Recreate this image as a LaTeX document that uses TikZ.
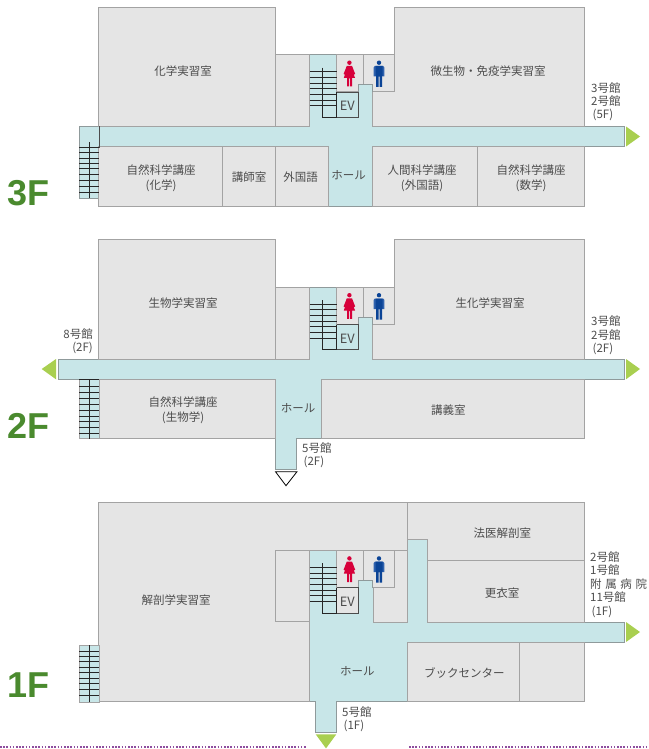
\documentclass[tikz,border=0pt]{standalone}
\usepackage{fontspec}
\setmainfont{Noto Sans CJK JP}
\newfontfamily\floorfont{Liberation Sans}[Scale=1]
\usepackage{xcolor}
\usetikzlibrary{positioning}
\definecolor{roomfill}{HTML}{E5E5E5}
\definecolor{roomline}{HTML}{A3A3A3}
\definecolor{hallfill}{HTML}{C8E6E8}
\definecolor{hallline}{HTML}{8F9A9B}
\definecolor{arrowgreen}{HTML}{A9CF50}
\definecolor{floorgreen}{HTML}{4A8A2E}
\definecolor{ladyred}{HTML}{D7003A}
\definecolor{manblue}{HTML}{0B4496}
\definecolor{manarm}{HTML}{2F62AE}
\definecolor{dotpurple}{HTML}{8E4D9E}
\definecolor{labelgray}{HTML}{4D4D4D}
\tikzset{
  room/.style={draw=roomline, fill=roomfill, line width=1pt},
  hall/.style={draw=hallline, fill=hallfill, line width=1pt},
  stairline/.style={draw=black!85, line width=0.8pt},
  exitarrow/.style={fill=arrowgreen},
  roomlabel/.style={text=labelgray, inner sep=0pt, align=center, font=\fontsize{11.5}{15}\selectfont},
  evlabel/.style={text=labelgray, inner sep=0pt, font=\fontsize{12.8}{15}\selectfont},
  winglabel/.style={text=labelgray, inner sep=0pt, align=left, anchor=west, font=\fontsize{11.5}{13.4}\selectfont},
  floorlabel/.style={text=floorgreen, draw=floorgreen, inner sep=0pt, anchor=south west, font=\floorfont\bfseries\fontsize{36}{36}\selectfont},
  dotrule/.style={draw=dotpurple, line width=2pt, dash pattern=on 1.6pt off 1.6pt}
}

\begin{document}
\begin{tikzpicture}[x=1pt,y=-1pt]
  \useasboundingbox (0,0) rectangle (648,749);

  % Floor 3
  \draw[hall] (309,55) -- (336.5,55) -- (336.5,117.3) -- (358,117.3) -- (358,84.5) -- (372,84.5) -- (372,126.5)
    -- (624,126.5) -- (624,146.5) -- (372,146.5) -- (372,206) -- (328.5,206) -- (328.5,146.5) -- (99,146.5)
    -- (99,198) -- (79,198) -- (79,126.5) -- (309,126.5) -- cycle;
  \draw[room] (98.7,7.5) rectangle (275.5,126.5);
  \draw[room] (275.5,55) rectangle (309,126.5);
  \draw[room] (394,7.5) -- (584,7.5) -- (584,126.5) -- (372,126.5) -- (372,92) -- (394,92) -- cycle;
  \draw[room] (98.7,146.5) rectangle (222.5,206);
  \draw[room] (222.5,146.5) rectangle (275.5,206);
  \draw[room] (275.5,146.5) rectangle (328.5,206);
  \draw[room] (372,146.5) rectangle (477.5,206);
  \draw[room] (477.5,146.5) rectangle (584,206);
  \draw[hall, draw=none] (358.5,85) rectangle (371.5,126);
  \draw[line width=0.8pt, black!70] (99,126.5) -- (99,148);
  \foreach \ly in {147,152.7,158,163,168.7,174.3,180.3,186,192}
    \draw[stairline] (79,\ly) -- (99,\ly);
  \draw[stairline] (89.5,142) -- (89.5,198);
  \fill[exitarrow] (626,126.5) -- (640,136.5) -- (626,146.5) -- cycle;
  \node[roomlabel] (chem) at (183,71) {化学実習室};
  \node[roomlabel] (micro) at (488,71) {微生物・免疫学実習室};
  \node[roomlabel] (natchem) at (161,178.5) {自然科学講座\\(化学)};
  \node[roomlabel] (lecturer) at (249,177) {講師室};
  \node[roomlabel] (foreign) at (300.5,177) {外国語};
  \node[roomlabel] (hallthree) at (348.5,175.5) {ホール};
  \node[roomlabel] (human) at (422,178.5) {人間科学講座\\(外国語)};
  \node[roomlabel] (natmath) at (531,178.5) {自然科学講座\\(数学)};
  \node[winglabel] (wingthree) at (591,101.7) {3号館\\2号館\\\hspace{1.5pt}(5F)};
  \node[floorlabel, draw=none] (fthree) at (7.5,206) {3F};

  % Floor 2
  \draw[hall] (309,287.5) -- (336.5,287.5) -- (336.5,349.8) -- (358,349.8) -- (358,317) -- (372,317) -- (372,359)
    -- (624,359) -- (624,379.3) -- (321,379.3) -- (321,438.5) -- (296.5,438.5) -- (296.5,469) -- (275.5,469)
    -- (275.5,379.3) -- (58.5,379.3) -- (58.5,359) -- (309,359) -- cycle;
  \draw[room] (98.7,239.7) rectangle (275.5,359);
  \draw[room] (275.5,287.5) rectangle (309,359);
  \draw[room] (394,239.7) -- (584,239.7) -- (584,359) -- (372,359) -- (372,324.5) -- (394,324.5) -- cycle;
  \draw[room] (98.7,379.3) rectangle (275.5,438.5);
  \draw[room] (321,379.3) rectangle (584,438.5);
  \draw[hall, draw=none] (358.5,317.5) rectangle (371.5,358.5);
  \draw[hall, draw=roomline] (79,379.3) rectangle (99,438.5);
  \foreach \ly in {379.3,386.7,392.7,398.7,404.3,410.3,416,421.7,427.7,433.3}
    \draw[stairline] (79,\ly) -- (99,\ly);
  \draw[stairline] (89.5,379.3) -- (89.5,439);
  \fill[exitarrow] (56,359) -- (41.7,369) -- (56,379.3) -- cycle;
  \fill[exitarrow] (626,359) -- (640,369) -- (626,379.3) -- cycle;
  \draw[line width=0.8pt] (275.5,471.7) -- (297,471.7) -- (286,485.7) -- cycle;
  \node[roomlabel] (bio) at (183,303) {生物学実習室};
  \node[roomlabel] (biochem) at (490,303) {生化学実習室};
  \node[roomlabel] (natbio) at (183,410.5) {自然科学講座\\(生物学)};
  \node[roomlabel] (halltwo) at (298,408.5) {ホール};
  \node[roomlabel] (lecture) at (448.3,410) {講義室};
  \node[winglabel, anchor=east, align=right] (wingeight) at (93,341.3) {8号館\\(2F)\hspace{1.5pt}};
  \node[winglabel] (wingtwo) at (591,335.3) {3号館\\2号館\\\hspace{1.5pt}(2F)};
  \node[winglabel] (fivetwo) at (302,455.3) {5号館\\\hspace{1.5pt}(2F)};
  \node[floorlabel, draw=none] (ftwo) at (7.5,438.3) {2F};

  % Floor 1
  \draw[hall] (309.5,550.7) -- (336.5,550.7) -- (336.5,612.3) -- (358,612.3) -- (358,580) -- (373.3,580) -- (373.3,622)
    -- (407,622) -- (407,539.3) -- (427.7,539.3) -- (427.7,622) -- (624,622) -- (624,642) -- (407,642) -- (407,701.7)
    -- (336.3,701.7) -- (336.3,732.3) -- (315.7,732.3) -- (315.7,701.7) -- (309.5,701.7) -- cycle;
  \draw[room] (98.7,502.7) -- (407,502.7) -- (407,550.7) -- (275.5,550.7) -- (275.5,621.7) -- (309.5,621.7)
    -- (309.5,701.7) -- (98.7,701.7) -- cycle;
  \draw[room] (275.5,550.7) rectangle (309.5,621.7);
  \draw[room] (407,502.7) -- (584,502.7) -- (584,560.7) -- (427.7,560.7) -- (427.7,539.3) -- (407,539.3) -- cycle;
  \draw[room] (427.7,560.7) rectangle (584,622);
  \draw[room] (394,550.7) -- (407,550.7) -- (407,622) -- (373.3,622) -- (373.3,587.5) -- (394,587.5) -- cycle;
  \draw[room] (407,642) rectangle (519.7,701.7);
  \draw[room] (519.7,642) rectangle (584,701.7);
  \draw[hall, draw=none] (373.8,622.5) rectangle (406.5,641.5);
  \draw[hall, draw=none] (407.5,621) rectangle (427.2,641.5);
  \draw[hall, draw=roomline] (79,645) rectangle (99,702);
  \foreach \ly in {651,656.5,661.7,667,672.7,678,683.7,689.3,695}
    \draw[stairline] (79,\ly) -- (99,\ly);
  \draw[stairline] (89.5,645) -- (89.5,702);
  \fill[exitarrow] (626,622) -- (640,632) -- (626,642) -- cycle;
  \fill[exitarrow] (315.7,734.3) -- (336.3,734.3) -- (326,748.4) -- cycle;
  \node[roomlabel] (anat) at (176,600) {解剖学実習室};
  \node[roomlabel] (forensic) at (502.3,533) {法医解剖室};
  \node[roomlabel] (locker) at (502,593.5) {更衣室};
  \node[roomlabel] (hallone) at (357.3,671) {ホール};
  \node[roomlabel] (books) at (464.3,672.5) {ブックセンター};
  \node[winglabel] (wingone) at (590,584.5) {2号館\\1号館\\附\hspace{3.6pt}属\hspace{3.6pt}病\hspace{3.6pt}院\\11号館\\\hspace{1.5pt}(1F)};
  \node[winglabel] (fiveone) at (342,719.2) {5号館\\\hspace{1.5pt}(1F)};
  \node[floorlabel, draw=none] (fone) at (7.5,697.7) {1F};

  % Stair core and toilets, same on every floor
  \foreach \dy/\evfill in {0/hallfill,232.5/hallfill,495.7/roomfill} {
    \begin{scope}[shift={(0,\dy)}]
      \draw[room] (336.5,55) rectangle (363,92);
      \draw[room] (363,55) rectangle (394,92);
      \draw[hall, draw=hallline] (358,92.3) -- (358,84.5) -- (372,84.5) -- (372,92.3);
      \fill[\evfill] (336.5,92) rectangle (358,117.3);
      \foreach \ly in {71.7,77.3,83,88.7,94.3,100,105.7}
        \draw[stairline] (309.5,\ly) -- (336.5,\ly);
      \draw[stairline] (322.7,67.7) -- (322.7,117.3) -- (336.5,117.3);
      \draw[stairline] (336.5,92) -- (336.5,117.3);
      \draw[stairline, draw=black!70] (336.5,117.3) -- (358,117.3) -- (358,92) -- (336.5,92);
      % lady
      \fill[ladyred] (349.4,62.7) circle (2.2pt);
      \fill[ladyred] (346.8,65.8) -- (352,65.8) -- (355.2,74) -- (354,74.6) -- (352.8,71.5) -- (355,78) -- (352,78)
        -- (352,86.3) -- (350,86.3) -- (350,78.5) -- (349,78.5) -- (349,86.3) -- (347,86.3) -- (347,78) -- (343.8,78)
        -- (346,71.5) -- (344.8,74.6) -- (343.6,74) -- cycle;
      % man
      \fill[manblue] (379,62.7) circle (2.2pt);
      \fill[manarm] (374.8,66) -- (383.2,66) -- (384.4,67.5) -- (384.4,76.5) -- (373.6,76.5) -- (373.6,67.5) -- cycle;
      \fill[manblue] (375.5,66) -- (382.5,66) -- (382.5,76) -- (382,76) -- (382,87) -- (379.5,87) -- (379.5,76.5)
        -- (378.5,76.5) -- (378.5,87) -- (376,87) -- (376,76) -- (375.5,76) -- cycle;
      \node[evlabel] (ev\dy) at (347.3,106) {EV};
    \end{scope}
  }

  % Dotted rule
  \draw[dotrule] (0,746.7) -- (307,746.7);
  \draw[dotrule] (409,746.7) -- (648,746.7);
\end{tikzpicture}
\end{document}
